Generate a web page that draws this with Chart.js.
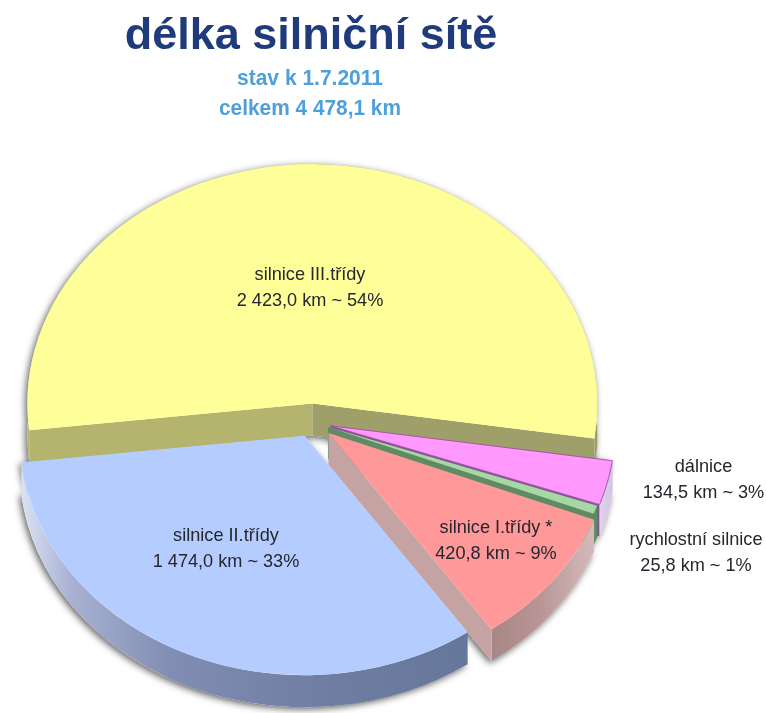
<!DOCTYPE html>
<html lang="cs">
<head>
<meta charset="utf-8">
<style>html,body{margin:0;padding:0;background:#fff}#w{width:766px;height:713px}canvas{display:block}</style>
<script src="https://cdn.jsdelivr.net/npm/chart.js@4/dist/chart.umd.min.js"></script>
</head>
<body>
<div id="w"><canvas id="c" width="766" height="713"></canvas></div>
<script>
const categories = ["silnice III.třídy", "dálnice", "rychlostní silnice", "silnice I.třídy *", "silnice II.třídy"];
const lengthsKm = [2423.0, 134.5, 25.8, 420.8, 1474.0];
const percents = [54, 3, 1, 9, 33];
const titleText = "délka silniční sítě";
const subtitleLines = ["stav k 1.7.2011", "celkem 4 478,1 km"];

const topColors = ["#FFFF99", "#FF99FF", "#A6D8A4", "#FF9999", "#B4CDFE"];
const sideColors = ["#B4B46E", "#7F5A8C", "#5F8B62", "#C6A3A3", "#8E9AC0"];
const explode = [22, 19, 17, 21, 18];
const CX = 312, CY = 422, K = 0.84, DEPTH = 32;
const labelAnchors = [[310, 274], [703.5, 466], [696, 539], [496, 527], [226, 535]];
// which cut faces (start, end) of each slice can be seen from above
const visibleFaces = [[true, true], [false, true], [false, true], [false, true], [false, false]];

const fmt = v => {
  const [a, b] = v.toFixed(1).split(".");
  return a.replace(/\B(?=(\d{3})+$)/g, " ") + "," + b;
};

function rimGradient(ctx, i) {
  const stops = {
    0: [[20, "#B4B46E"], [600, "#9C9C68"]],
    1: [[596, "#E6D8F2"], [615, "#CFC0E0"]],
    2: [[590, "#5F8B62"], [600, "#5F8B62"]],
    3: [[490, "#A88686"], [540, "#B89595"], [596, "#D6BCBC"]],
    4: [[20, "#DDE3F6"], [70, "#A9B2D2"], [170, "#818DB2"], [330, "#6F7DA2"], [470, "#66779C"]]
  }[i];
  const x0 = stops[0][0], x1 = stops[stops.length - 1][0];
  const g = ctx.createLinearGradient(x0, 0, x1, 0);
  stops.forEach(s => g.addColorStop((s[0] - x0) / (x1 - x0), s[1]));
  return g;
}

function squeezed(ctx, text, x, y, factor) {
  ctx.fillText(text, x, y, ctx.measureText(text).width * factor);
}

const pie3d = {
  id: "pie3d",
  afterDatasetsUpdate(chart) {
    chart.getDatasetMeta(0).data.forEach((el, i) => {
      const mid = (el.startAngle + el.endAngle) / 2;
      el.x = CX + Math.cos(mid) * explode[i];
      el.y = CY + Math.sin(mid) * explode[i];
    });
  },
  beforeDatasetDraw(chart) {
    const ctx = chart.ctx;
    const arcs = chart.getDatasetMeta(0).data;
    const sy = y => CY + (y - CY) * K;
    const P = (el, a, d) => [el.x + el.outerRadius * Math.cos(a), sy(el.y) + el.outerRadius * K * Math.sin(a) + d];

    const solid = (el) => {
      const R = el.outerRadius, ay = sy(el.y);
      ctx.beginPath();
      ctx.moveTo(el.x, ay);
      ctx.ellipse(el.x, ay, R, R * K, 0, el.startAngle, el.endAngle);
      ctx.closePath();
      ctx.moveTo(el.x, ay + DEPTH);
      ctx.ellipse(el.x, ay + DEPTH, R, R * K, 0, el.startAngle, el.endAngle);
      ctx.closePath();
    };

    // soft drop shadow under every slice
    ctx.save();
    ctx.shadowColor = "rgba(30,30,30,0.7)";
    ctx.shadowBlur = 7;
    ctx.shadowOffsetX = -2;
    ctx.shadowOffsetY = 2;
    ctx.fillStyle = "#fff";
    arcs.forEach(el => { solid(el); ctx.fill(); });
    ctx.restore();

    arcs.forEach((el, i) => {
      const R = el.outerRadius, ay = sy(el.y);
      // outer rim
      ctx.beginPath();
      ctx.ellipse(el.x, ay, R, R * K, 0, el.startAngle, el.endAngle);
      ctx.ellipse(el.x, ay + DEPTH, R, R * K, 0, el.endAngle, el.startAngle, true);
      ctx.closePath();
      ctx.fillStyle = rimGradient(ctx, i);
      ctx.fill();
      // cut faces that can be seen
      [el.startAngle, el.endAngle].forEach((a, j) => {
        if (!visibleFaces[i][j]) return;
        const p = P(el, a, 0);
        ctx.beginPath();
        ctx.moveTo(el.x, ay);
        ctx.lineTo(p[0], p[1]);
        ctx.lineTo(p[0], p[1] + DEPTH);
        ctx.lineTo(el.x, ay + DEPTH);
        ctx.closePath();
        ctx.fillStyle = (i === 0 && j === 1) ? "#9F9F69" : sideColors[i];
        ctx.fill();
      });
    });
    // rim of the pink slice sits over its cut face at the outer end
    const pink = arcs[1], pay = sy(pink.y), pR = pink.outerRadius;
    ctx.beginPath();
    ctx.ellipse(pink.x, pay, pR, pR * K, 0, pink.startAngle, pink.endAngle);
    ctx.ellipse(pink.x, pay + DEPTH, pR, pR * K, 0, pink.endAngle, pink.startAngle, true);
    ctx.closePath();
    ctx.fillStyle = rimGradient(ctx, 1);
    ctx.fill();

    ctx.save();
    ctx.translate(0, CY);
    ctx.scale(1, K);
    ctx.translate(0, -CY);
  },
  afterDatasetDraw(chart) {
    chart.ctx.restore();
  },
  afterDraw(chart) {
    const ctx = chart.ctx;
    ctx.save();
    ctx.textAlign = "center";
    ctx.textBaseline = "alphabetic";
    ctx.fillStyle = "#1F3B7B";
    ctx.font = 'bold 45px "Liberation Sans", Arial, sans-serif';
    ctx.fillText(titleText, 311, 49);
    ctx.fillStyle = "#4F9FD9";
    ctx.font = 'bold 22px "Liberation Sans", Arial, sans-serif';
    ctx.fillText(subtitleLines[0], 310, 85, 146);
    ctx.fillText(subtitleLines[1], 310, 115, 182);
    ctx.fillStyle = "#26262E";
    ctx.font = '18.5px "Liberation Sans", Arial, sans-serif';
    categories.forEach((name, i) => {
      const [x, y] = labelAnchors[i];
      squeezed(ctx, name, x, y + 6, 0.98);
      squeezed(ctx, fmt(lengthsKm[i]) + " km ~ " + percents[i] + "%", x, y + 32, 0.98);
    });
    ctx.restore();
  }
};

new Chart(document.getElementById("c"), {
  type: "pie",
  data: {
    labels: categories,
    datasets: [{
      data: lengthsKm,
      backgroundColor: topColors,
      borderColor: "#A04FA8",
      borderWidth: [0, 1, 0, 0, 0],
      radius: 285,
      rotation: -96.4
    }]
  },
  plugins: [pie3d],
  options: {
    responsive: false,
    animation: false,
    layout: { padding: { left: 0, right: 142, top: 131, bottom: 0 } },
    plugins: { legend: { display: false }, tooltip: { enabled: false }, title: { display: false } }
  }
});
</script>
</body>
</html>
